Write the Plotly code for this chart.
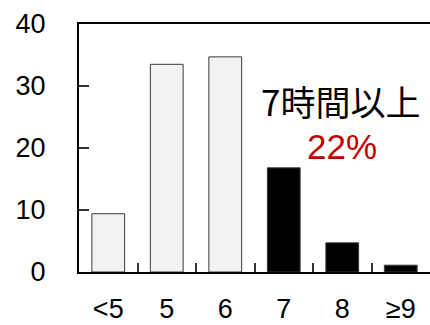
import plotly.graph_objects as go

categories = ["<5", "5", "6", "7", "8", "≥9"]
values = [9.4, 33.5, 34.7, 16.8, 4.7, 1.1]
bar_colors = ["#f2f2f2", "#f2f2f2", "#f2f2f2", "#000000", "#000000", "#000000"]
y_ticks = [0, 10, 20, 30, 40]
label_main = "7時間以上"
label_pct = "22%"

FONT = "Liberation Sans, Arial, Noto Sans CJK JP, sans-serif"

fig = go.Figure(
    go.Bar(
        x=categories,
        y=values,
        marker=dict(color=bar_colors, line=dict(color="#3a3a3a", width=1)),
        width=0.56,
    )
)

fig.update_layout(
    width=430,
    height=325,
    margin=dict(l=79, r=0, t=24, b=53),
    paper_bgcolor="white",
    plot_bgcolor="white",
    showlegend=False,
    font=dict(family=FONT, color="black"),
)

fig.update_xaxes(
    type="category",
    automargin=False,
    showline=True,
    linecolor="black",
    linewidth=2,
    mirror=True,
    ticks="inside",
    tickson="boundaries",
    ticklen=9,
    tickwidth=1.5,
    tickcolor="#333333",
    tickfont=dict(size=27, family=FONT),
    ticklabelstandoff=12,
    showgrid=False,
)

fig.update_yaxes(
    range=[0, 40],
    automargin=False,
    tickvals=y_ticks,
    showline=True,
    linecolor="black",
    linewidth=2,
    ticks="inside",
    ticklen=10,
    tickwidth=1.5,
    tickcolor="#333333",
    tickfont=dict(size=27, family=FONT),
    ticklabelstandoff=26,
    showgrid=False,
    zeroline=False,
)

fig.add_annotation(
    x=0.746, xref="paper", y=27.6, yref="y",
    xanchor="center", yanchor="middle",
    text=label_main, showarrow=False,
    font=dict(size=35, family="Noto Sans CJK JP, Liberation Sans", color="black"),
)
fig.add_annotation(
    x=0.748, xref="paper", y=20.2, yref="y",
    xanchor="center", yanchor="middle",
    text=label_pct, showarrow=False,
    font=dict(size=35, family=FONT, color="#c00000"),
)

fig.write_html("out.html")
